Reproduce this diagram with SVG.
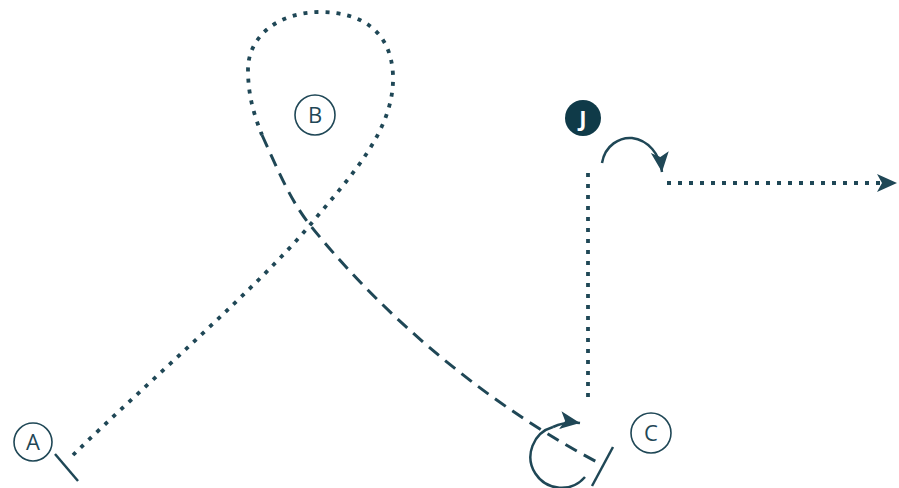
<svg xmlns="http://www.w3.org/2000/svg" width="899" height="488" viewBox="0 0 899 488">
<style>
.lbl{fill:none;stroke:#1f4756;stroke-width:1.6}
.t{font-family:"Open Sans",sans-serif;font-size:22px;fill:#1f4756;text-anchor:middle}
.dot{fill:none;stroke:#1f4756;stroke-width:3.8;stroke-dasharray:4 7}
.dash{fill:none;stroke:#1f4756;stroke-width:3;stroke-dasharray:13 8}
.solid{fill:none;stroke:#1f4756;stroke-width:2.5}
</style>
<defs>
<marker id="ah2" viewBox="0 0 22 22" refX="20" refY="11" markerWidth="22" markerHeight="22" markerUnits="userSpaceOnUse" orient="auto">
<path d="M0,2 L20,11 L0,20 L5,11 Z" fill="#1f4756"/>
</marker>
</defs>
<g id="connectors">
<path class="dot" d="M73,455 C150,380 260,285 310,225 C350,177 395,130 393,75 C391,30 360,12 320,12 C280,12 248,35 248,70 C248,95 254,115 262,135"/>
<path class="dash" d="M262,135 C278,170 290,200 310,225 C370,300 470,395 597,462"/>
<line class="solid" x1="55" y1="454" x2="78" y2="481"/>
<line class="solid" x1="613" y1="447" x2="592" y2="486"/>
<path class="solid" d="M585,477 A31,31 0 1 1 553,427"/>
<path class="solid" d="M553,427 Q566,421 580,423" marker-end="url(#ah2)"/>
<line class="dot" x1="588" y1="173" x2="588" y2="398"/>
<path class="solid" d="M602,163 C605,145 620,137 632,138 C648,140 660,154 662,172" marker-end="url(#ah2)"/>
<line class="dot" x1="667" y1="183" x2="897" y2="183" marker-end="url(#ah2)"/>
</g>
<g id="A"><circle class="lbl" cx="33" cy="442" r="19"/><text class="t" x="33" y="450">A</text></g>
<g id="B"><circle class="lbl" cx="315" cy="115" r="20"/><text class="t" x="315" y="123">B</text></g>
<g id="C"><circle class="lbl" cx="651" cy="433" r="20"/><text class="t" x="651" y="441">C</text></g>
<g id="J"><circle cx="583" cy="118" r="18" fill="#0f3a48"/><text x="583" y="126" font-family="'Open Sans',sans-serif" font-size="22" font-weight="bold" fill="#fff" text-anchor="middle">J</text></g>
</svg>
